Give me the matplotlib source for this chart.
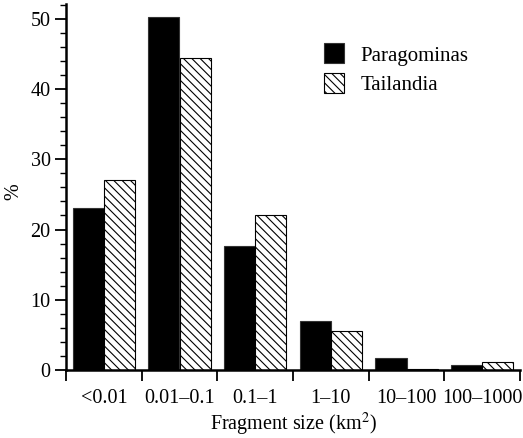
import matplotlib
matplotlib.use('Agg')
from matplotlib import pyplot as plt
from matplotlib.ticker import MultipleLocator
import numpy as np

plt.rcParams['font.family'] = ['Liberation Serif', 'DejaVu Serif']
plt.rcParams['hatch.linewidth'] = 0.8
plt.rcParams['mathtext.fontset'] = 'stix'

size_classes = ['<0.01', '0.01–0.1', '0.1–1', '1–10', '10–100', '100–1000']
paragominas = [23.1, 50.3, 17.6, 7.0, 1.7, 0.7]
tailandia = [27.0, 44.4, 22.0, 5.6, 0.2, 1.1]

fig = plt.figure(figsize=(5.23, 4.38), dpi=100)
ax = fig.add_axes([66 / 523, 68 / 438, 454 / 523, 366 / 438])

x = np.arange(len(size_classes))
bar_w = 0.41
ax.bar(x + 0.5 - bar_w, paragominas, width=bar_w, align='edge', color='black',
       edgecolor='#333333', linewidth=0.8, label='Paragominas')
ax.bar(x + 0.5, tailandia, width=bar_w, align='edge', color='white',
       edgecolor='black', hatch='\\\\\\\\', linewidth=0.8, label='Tailandia')

ax.set_xlim(0, len(size_classes))
ax.set_ylim(0, 52.1)
ax.set_xticks(np.arange(len(size_classes) + 1))
ax.set_xticklabels([])
ax.set_xticks(x + 0.5, minor=True)
ax.set_xticklabels(size_classes, minor=True)
ax.tick_params(axis='x', which='minor', length=0, pad=14, labelsize=14.5)
ax.tick_params(axis='x', which='major', length=8, width=1.3, direction='out')

ax.yaxis.set_major_locator(MultipleLocator(10))
ax.yaxis.set_minor_locator(MultipleLocator(2))
ax.tick_params(axis='y', which='major', length=8, width=1.3, labelsize=14.5, pad=3)
ax.tick_params(axis='y', which='minor', length=4, width=1.0)

for side in ['top', 'right']:
    ax.spines[side].set_visible(False)
for side in ['left', 'bottom']:
    ax.spines[side].set_linewidth(1.8)

ax.set_xlabel('Fragment size (km$^2$)', fontsize=14.5, va='baseline')
ax.xaxis.set_label_coords(0.5, -0.164)
ax.set_ylabel('%', fontsize=14.5, va='center')
ax.yaxis.set_label_coords(-0.115, 0.486)

ax.legend(loc='upper left', bbox_to_anchor=(0.55, 0.915), frameon=False,
          fontsize=15, handlelength=0.95, handleheight=1.1, handletextpad=0.8,
          labelspacing=0.35, borderaxespad=0)

fig.savefig('out.png', dpi=100)
